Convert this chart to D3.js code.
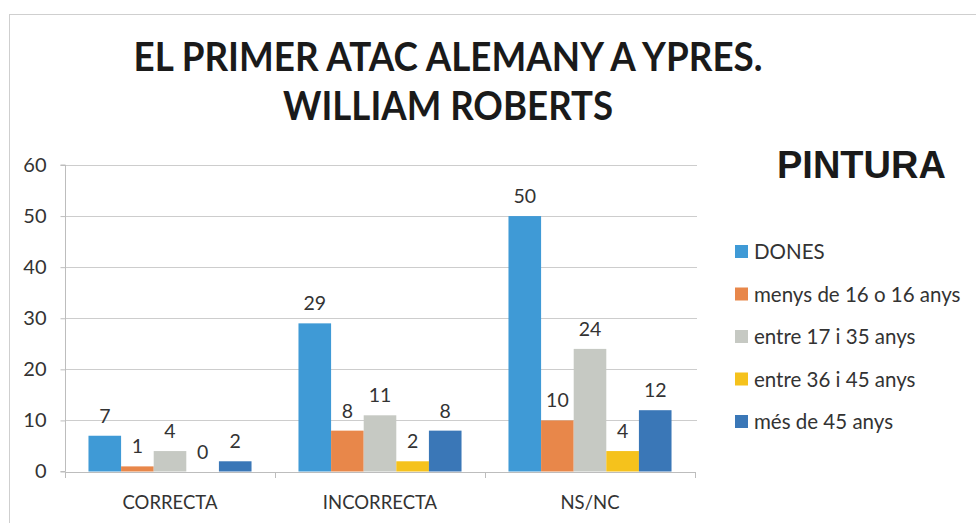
<!DOCTYPE html>
<html>
<head>
<meta charset="utf-8">
<script src="https://cdn.jsdelivr.net/npm/d3@7"></script>
<style>
  html, body { margin: 0; padding: 0; background: #fff; }
  svg { display: block; }
</style>
</head>
<body>
<svg id="chart" width="976" height="523"></svg>
<script>
// Survey answers for the painting by William Roberts
const categories = ["CORRECTA", "INCORRECTA", "NS/NC"];
const seriesNames = ["DONES", "menys de 16 o 16 anys", "entre 17 i 35 anys", "entre 36 i 45 anys", "més de 45 anys"];
const dones = [7, 29, 50];
const menys16 = [1, 8, 10];
const entre17_35 = [4, 11, 24];
const entre36_45 = [0, 2, 4];
const mesDe45 = [2, 8, 12];
const yTicks = [0, 10, 20, 30, 40, 50, 60];
const titleLines = ["EL PRIMER ATAC ALEMANY A YPRES.", "WILLIAM ROBERTS"];
const sideTitle = "PINTURA";

const seriesValues = [dones, menys16, entre17_35, entre36_45, mesDe45];
const colors = ["#3f9ad6", "#e8874a", "#c6c9c3", "#f5c21c", "#3a77b7"];

const svg = d3.select("#chart");
const textFont = "Lato, 'Open Sans', sans-serif";
const textColor = "#333";

// Chart frame
svg.append("rect")
  .attr("x", 9.5).attr("y", 14.5)
  .attr("width", 990).attr("height", 560)
  .attr("fill", "none").attr("stroke", "#cfcfcf").attr("stroke-width", 1);

// Plot geometry
const plot = { left: 65, right: 695, top: 165, bottom: 471.5 };

const x0 = d3.scaleBand()
  .domain(categories)
  .range([plot.left, plot.right])
  .paddingInner(0).paddingOuter(0);

const x1 = d3.scaleBand()
  .domain(d3.range(seriesNames.length))
  .range([0, x0.bandwidth()])
  .paddingInner(0)
  .paddingOuter(0.72);

const y = d3.scaleLinear().domain([0, 60]).range([plot.bottom, plot.top]);

// Horizontal gridlines
svg.append("g")
  .selectAll("line")
  .data(yTicks.filter(d => d > 0))
  .join("line")
  .attr("x1", plot.left).attr("x2", plot.right + 2)
  .attr("y1", d => Math.round(y(d)) + 0.5).attr("y2", d => Math.round(y(d)) + 0.5)
  .attr("stroke", "#cdcdcd").attr("stroke-width", 1);

// Y axis
const yAxis = d3.axisLeft(y).tickValues(yTicks).tickSize(5).tickPadding(14).tickFormat(d3.format("d"));
const gy = svg.append("g")
  .attr("transform", `translate(${plot.left + 0.5},0)`)
  .call(yAxis);
gy.select(".domain").attr("stroke", "#bdbdbd").attr("d", `M-5,${y(0)}H0V${y(60)}H-5`);
gy.selectAll(".tick line").attr("stroke", "#bdbdbd");
gy.selectAll(".tick text")
  .attr("fill", textColor)
  .style("font-family", textFont)
  .style("font-size", "20px");

// X axis: baseline with ticks at category boundaries
const gx = svg.append("g");
gx.append("line")
  .attr("x1", plot.left).attr("x2", plot.right)
  .attr("y1", Math.round(y(0)) + 0.5).attr("y2", Math.round(y(0)) + 0.5)
  .attr("stroke", "#bdbdbd");
const boundaries = categories.map(c => x0(c)).concat([plot.right]);
gx.selectAll("line.bt")
  .data(boundaries)
  .join("line")
  .attr("class", "bt")
  .attr("x1", d => Math.round(d) + 0.5).attr("x2", d => Math.round(d) + 0.5)
  .attr("y1", Math.round(y(0))).attr("y2", Math.round(y(0)) + 6)
  .attr("stroke", "#bdbdbd");
gx.selectAll("text")
  .data(categories)
  .join("text")
  .attr("x", d => x0(d) + x0.bandwidth() / 2)
  .attr("y", 509)
  .attr("text-anchor", "middle")
  .attr("fill", textColor)
  .style("font-family", textFont)
  .style("font-size", "18.5px")
  .text(d => d);

// Bars and value labels
const groups = svg.append("g")
  .selectAll("g")
  .data(categories)
  .join("g")
  .attr("transform", d => `translate(${x0(d)},0)`);

const cells = groups.selectAll("g")
  .data((c, ci) => seriesValues.map((vals, si) => ({ si, value: vals[ci] })))
  .join("g");

cells.append("rect")
  .attr("x", d => x1(d.si))
  .attr("y", d => y(d.value))
  .attr("width", x1.bandwidth())
  .attr("height", d => y(0) - y(d.value))
  .attr("fill", d => colors[d.si]);

cells.append("text")
  .attr("x", d => x1(d.si) + x1.bandwidth() / 2)
  .attr("y", d => y(d.value) - 13)
  .attr("text-anchor", "middle")
  .attr("fill", textColor)
  .style("font-family", textFont)
  .style("font-size", "19.5px")
  .text(d => d.value);

// Title (two lines), slightly condensed
const titleWidths = [629, 330];
svg.append("g")
  .selectAll("text")
  .data(titleLines)
  .join("text")
  .attr("x", 448)
  .attr("y", (d, i) => 71 + i * 49)
  .attr("text-anchor", "middle")
  .attr("textLength", (d, i) => titleWidths[i])
  .attr("lengthAdjust", "spacingAndGlyphs")
  .attr("fill", "#1a1a1a")
  .style("font-family", textFont)
  .style("font-weight", "bold")
  .style("font-size", "40px")
  .text(d => d);

// Side heading
svg.append("text")
  .attr("x", 777).attr("y", 178)
  .attr("fill", "#1a1a1a")
  .style("font-family", "'Liberation Sans', Arial, sans-serif")
  .style("font-weight", "bold")
  .style("font-size", "38px")
  .text(sideTitle);

// Legend
const legend = svg.append("g")
  .selectAll("g")
  .data(seriesNames)
  .join("g")
  .attr("transform", (d, i) => `translate(735,${252 + i * 42.5})`);
legend.append("rect")
  .attr("x", 0).attr("y", -7)
  .attr("width", 13).attr("height", 13)
  .attr("fill", (d, i) => colors[i]);
legend.append("text")
  .attr("x", 19).attr("y", 0)
  .attr("dy", "0.35em")
  .attr("fill", textColor)
  .style("font-family", textFont)
  .style("font-size", "20.5px")
  .text(d => d);
</script>
</body>
</html>
